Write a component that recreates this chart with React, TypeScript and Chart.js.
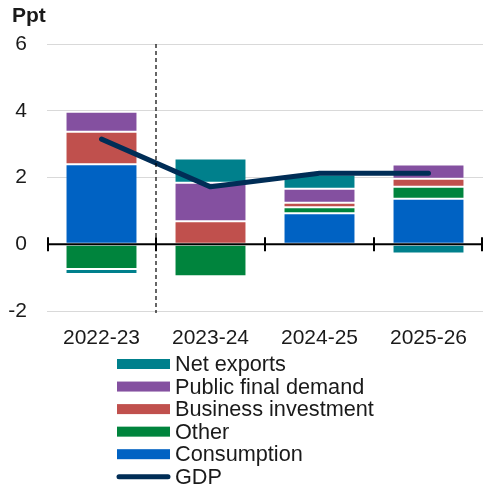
import React, { useEffect, useRef } from "react";
import { Chart, registerables } from "chart.js";

Chart.register(...registerables);

const categories = ["2022-23", "2023-24", "2024-25", "2025-26"];
const consumption = [2.4, 0, 0.93, 1.36];
const other = [-0.74, -0.96, 0.18, 0.36];
const businessInvestment = [0.97, 0.69, 0.13, 0.24];
const publicFinalDemand = [0.6, 1.15, 0.42, 0.43];
const netExports = [-0.15, 0.73, 0.43, -0.28];
const gdp = [3.15, 1.72, 2.13, 2.13];

const yMin = -2;
const yMax = 6;
const yStep = 2;
const yUnit = "Ppt";

const COLORS = {
  netExports: "#00808C",
  publicFD: "#8450A0",
  business: "#C0504D",
  other: "#00843D",
  consumption: "#0062C3",
  gdp: "#002D56",
};

const FONT = "'Liberation Sans', Arial, sans-serif";
const TEXT = "#1a1a1a";

const legendItems = [
  { label: "Net exports", color: COLORS.netExports, line: false },
  { label: "Public final demand", color: COLORS.publicFD, line: false },
  { label: "Business investment", color: COLORS.business, line: false },
  { label: "Other", color: COLORS.other, line: false },
  { label: "Consumption", color: COLORS.consumption, line: false },
  { label: "GDP", color: COLORS.gdp, line: true },
];

const overlayPlugin = {
  id: "overlay",
  afterDraw(chart: any) {
    const { ctx, chartArea, scales } = chart;
    const x = scales.x;
    const y = scales.y;
    ctx.save();
    // zero line with category boundary ticks
    const y0 = y.getPixelForValue(0);
    ctx.strokeStyle = "#000";
    ctx.lineWidth = 2;
    ctx.beginPath();
    ctx.moveTo(chartArea.left, y0);
    ctx.lineTo(chartArea.right, y0);
    ctx.stroke();
    const n = categories.length;
    for (let i = 0; i <= n; i++) {
      let px;
      if (i === 0) px = chartArea.left + 1;
      else if (i === n) px = chartArea.right - 1;
      else px = (x.getPixelForValue(i - 1) + x.getPixelForValue(i)) / 2;
      ctx.beginPath();
      ctx.moveTo(px, y0 - 7);
      ctx.lineTo(px, y0 + 7);
      ctx.stroke();
    }
    // dashed separator between actual and forecast
    const xs = (x.getPixelForValue(0) + x.getPixelForValue(1)) / 2;
    ctx.lineWidth = 1.2;
    ctx.setLineDash([4, 3]);
    ctx.beginPath();
    ctx.moveTo(xs, y.getPixelForValue(yMax));
    ctx.lineTo(xs, y.getPixelForValue(yMin) + 2);
    ctx.stroke();
    ctx.setLineDash([]);
    // unit label
    ctx.fillStyle = TEXT;
    ctx.font = `bold 21px ${FONT}`;
    ctx.textAlign = "left";
    ctx.textBaseline = "alphabetic";
    ctx.fillText(yUnit, 12, 22);
    // legend
    const lx = 117;
    const lw = 53;
    const top = 364;
    const step = 22.55;
    ctx.font = `21.7px ${FONT}`;
    ctx.textBaseline = "middle";
    legendItems.forEach((it, i) => {
      const cy = top + i * step;
      if (it.line) {
        ctx.strokeStyle = it.color;
        ctx.lineWidth = 5;
        ctx.lineCap = "round";
        ctx.beginPath();
        ctx.moveTo(lx + 2, cy);
        ctx.lineTo(lx + lw - 2, cy);
        ctx.stroke();
      } else {
        ctx.fillStyle = it.color;
        ctx.fillRect(lx, cy - 5, lw, 10);
      }
      ctx.fillStyle = TEXT;
      ctx.fillText(it.label, lx + lw + 5, cy + 1);
    });
    ctx.restore();
  },
};

export default function App() {
  const ref = useRef<HTMLCanvasElement | null>(null);

  useEffect(() => {
    document.body.style.margin = "0";
    const canvas = ref.current;
    if (!canvas) return;
    const barBase = {
      type: "bar" as const,
      borderWidth: 1,
      borderColor: "rgba(255,255,255,0.18)",
      borderSkipped: false,
      categoryPercentage: 1,
      barPercentage: 0.66,
      stack: "s",
      order: 1,
    };
    const chart = new Chart(canvas, {
      type: "bar",
      data: {
        labels: categories,
        datasets: [
          {
            type: "line",
            label: "GDP",
            data: gdp,
            borderColor: COLORS.gdp,
            borderWidth: 5,
            borderCapStyle: "round",
            borderJoinStyle: "round",
            pointRadius: 0,
            fill: false,
            stack: "gdp",
            order: 0,
          } as any,
          { ...barBase, label: "Consumption", data: consumption, backgroundColor: COLORS.consumption },
          { ...barBase, label: "Other", data: other, backgroundColor: COLORS.other },
          { ...barBase, label: "Business investment", data: businessInvestment, backgroundColor: COLORS.business },
          { ...barBase, label: "Public final demand", data: publicFinalDemand, backgroundColor: COLORS.publicFD },
          { ...barBase, label: "Net exports", data: netExports, backgroundColor: COLORS.netExports },
        ],
      },
      options: {
        animation: false,
        responsive: false,
        maintainAspectRatio: false,
        layout: { padding: { top: 44, left: 0, right: 0, bottom: 139 } },
        plugins: {
          legend: { display: false },
          tooltip: { enabled: false },
          title: { display: false },
        },
        scales: {
          x: {
            stacked: true,
            grid: { display: false, drawTicks: false },
            border: { display: false },
            ticks: {
              font: { family: FONT, size: 21 },
              color: TEXT,
              padding: 15,
              maxRotation: 0,
            },
            afterFit(scale: any) {
              scale.height = 40;
            },
          },
          y: {
            stacked: true,
            min: yMin,
            max: yMax,
            grid: {
              drawTicks: false,
              color: (c: any) => (c.tick && c.tick.value === 0 ? "rgba(0,0,0,0)" : "#d9d9d9"),
              lineWidth: 1,
            },
            border: { display: false },
            ticks: {
              stepSize: yStep,
              font: { family: FONT, size: 21 },
              color: TEXT,
              padding: 20,
            },
            afterFit(scale: any) {
              scale.width = 47;
            },
          },
        },
      },
      plugins: [overlayPlugin],
    });
    return () => chart.destroy();
  }, []);

  return (
    <div style={{ width: 483, height: 490 }}>
      <canvas ref={ref} width={483} height={490} style={{ width: 483, height: 490, display: "block" }} />
    </div>
  );
}
